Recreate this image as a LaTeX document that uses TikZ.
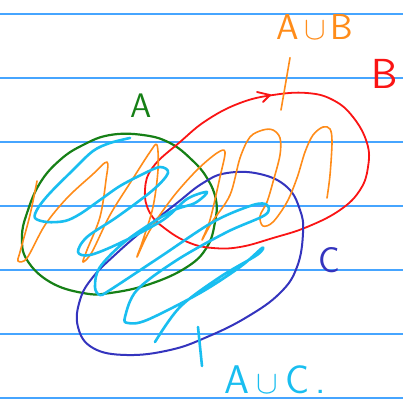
\documentclass[tikz,border=0pt]{standalone}
\usepackage{graphicx}
\usetikzlibrary{positioning}
\definecolor{ruleBlue}{RGB}{70,165,255}
\definecolor{penGreen}{RGB}{22,128,22}
\definecolor{penRed}{RGB}{250,20,20}
\definecolor{penBlue}{RGB}{52,52,190}
\definecolor{penOrange}{RGB}{255,140,25}
\definecolor{penCyan}{RGB}{25,190,240}
\newcommand{\bigunion}{\scalebox{1.3}{$\cup$}}
\tikzset{
    font=\sffamily,
    % Paper
    rule/.style={draw=ruleBlue, line width=1.4pt},
    % Pens
    pen/.style={line cap=round, line join=round},
    setA/.style={pen, draw=penGreen, line width=2.2pt},
    setB/.style={pen, draw=penRed, line width=1.8pt},
    setC/.style={pen, draw=penBlue, line width=2pt},
    hatchAB/.style={pen, draw=penOrange, line width=1.6pt},
    hatchAC/.style={pen, draw=penCyan, line width=2.6pt},
    % Labels
    lbl/.style={inner sep=0pt, font=\fontsize{36}{36}\selectfont\sffamily}
}

\begin{document}
\begin{tikzpicture}[x=1pt, y=-1pt]

\fill[white] (0,0) rectangle (403,400);
\useasboundingbox (0,0) rectangle (403,400);

% ruled paper
\foreach \yy in {14,78,...,398}
    \draw[rule] (0,\yy) -- (403,\yy);

% the three sets
\draw[setA] plot[smooth cycle, tension=0.7] coordinates {(110,135) (143,135) (170,143) (192,160) (207,178) (216,200) (215,222) (207,247) (187,267) (150,284) (110,293) (83,293) (50,282) (27,260) (22,237) (27,213) (40,183) (60,160) (83,145)};
\draw[setB] plot[smooth cycle, tension=0.7] coordinates {(145,190) (153,167) (180,142) (207,120) (240,103) (273,95) (307,93) (333,100) (353,117) (367,143) (368,167) (360,190) (340,210) (307,227) (273,238) (240,247) (213,248) (190,243) (167,230) (150,213)};
\draw[setB] (257,92) -- (270,95) -- (263,102);
\draw[setC] plot[smooth cycle, tension=0.7] coordinates {(227,173) (260,174) (287,187) (300,210) (303,233) (297,267) (280,293) (247,317) (207,337) (170,350) (127,355) (93,348) (78,327) (80,300) (93,277) (117,253) (147,227) (177,203) (203,183)};

% A u B hatching
\draw[hatchAB] plot[smooth, tension=0.55] coordinates {(37,181) (30,215) (20,252) (18,261) (27,258) (45,225) (67,198) (92,175) (107,162) (106,180) (100,217) (87,250) (83,262) (92,252) (110,215) (132,180) (150,152) (157,145) (158,170) (153,207) (143,240) (137,257) (150,230) (173,197) (197,170) (217,153) (225,152) (220,177) (210,220) (202,240) (212,222) (230,195) (240,158) (250,137) (263,130) (273,130) (280,138) (280,155) (273,182) (267,202) (260,216) (263,226) (273,222) (287,202) (297,178) (305,152) (313,135) (323,127) (330,129) (332,142) (330,175) (327,198)};

% A u C hatching
\draw[hatchAC] plot[smooth, tension=0.55] coordinates {(130,138) (110,143) (93,151) (73,170) (50,193) (38,208) (35,218) (47,222) (65,221) (80,214) (100,200) (120,186) (143,174) (160,167) (168,173) (153,190) (117,217) (87,237) (78,252) (90,255) (120,243) (163,220) (187,199) (207,192) (195,203) (170,212) (127,240) (100,267) (95,287) (100,295) (110,290) (160,257) (213,222) (253,205) (267,205) (265,215) (227,232) (177,260) (137,290) (125,317) (128,323) (147,320) (200,293) (240,267) (262,248) (257,255) (220,277) (180,307) (155,342)};

% labels
\node[lbl, text=penGreen, font=\fontsize{34}{34}\selectfont\sffamily] (labA) at (141,106) {A};
\node[lbl, text=penRed, font=\fontsize{42}{42}\selectfont\sffamily] (labB) at (385,74) {B};
\node[lbl, text=penOrange] (labAB) at (315,27) {A\hspace{5pt}\bigunion\hspace{5pt}B};
\node[lbl, text=penBlue] (labC) at (329,260) {C};
\node[lbl, text=penCyan, font=\fontsize{40}{40}\selectfont\sffamily] (labAC) at (275,380) {A\hspace{7pt}\bigunion\hspace{7pt}C\hspace{6pt}.};

% pointers
\coordinate (tipAB) at (281,110);
\coordinate (tipAC) at (198,327);
\draw[hatchAB] (labAB.south) ++(-25,18) coordinate (endAB) -- (tipAB);
\draw[hatchAC] (tipAC) -- (202,366) coordinate (endAC);

\end{tikzpicture}
\end{document}
